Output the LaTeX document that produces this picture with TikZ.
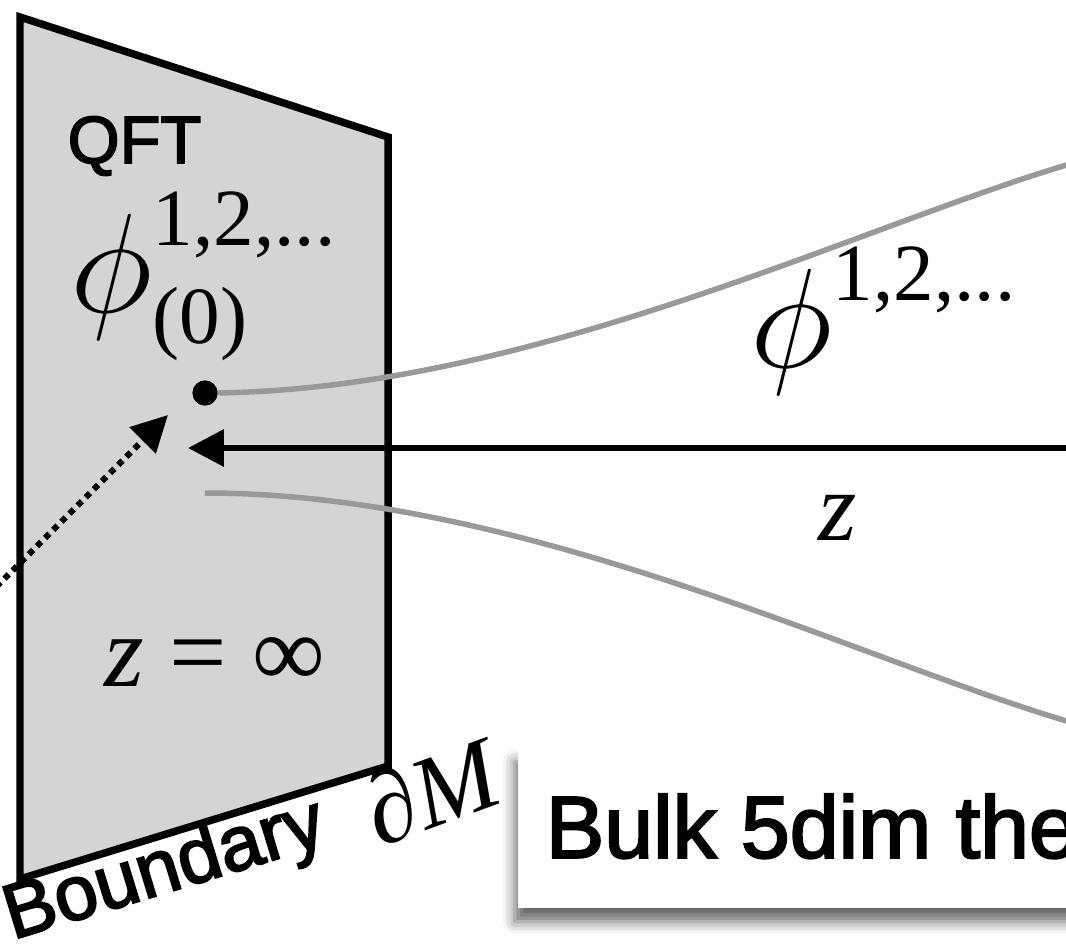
\RequirePackage{fix-cm}
\documentclass[tikz,border=0pt]{standalone}
\usepackage{amsmath}
\usepackage[no-math]{fontspec}
\setsansfont{Liberation Sans}
\newfontfamily\medsans{Liberation Sans}[FakeBold=2.5]
\newfontfamily\serifmath{Liberation Serif}
\usetikzlibrary{arrows.meta,shadows.blur}
\definecolor{planegray}{HTML}{D4D4D4}
\definecolor{curvegray}{HTML}{999999}
\newcommand{\idx}[1]{\text{\serifmath #1}}
\newcommand{\bigphi}{\text{\scalebox{1.22}{$\phi$}}}
\tikzset{
  planeedge/.style={draw=black,line width=0.75mm,fill=planegray,line join=miter},
  fieldline/.style={curvegray,line width=0.55mm},
  radial/.style={-{Triangle[length=3.6mm,width=3.6mm]},line width=0.65mm},
  dottedarrow/.style={-{Triangle[length=3.6mm,width=3.6mm]},line width=0.6mm,dash pattern=on 0.6mm off 0.55mm},
  sanslabel/.style={font=\medsans\fontsize{19}{22}\selectfont,inner sep=0pt},
  mathlabel/.style={font=\serifmath\fontsize{33}{38}\selectfont,inner sep=0pt},
  bulkbox/.style={fill=white,draw=none,inner xsep=2.8mm,inner ysep=0pt,text height=11mm,text depth=5mm,
    font=\medsans\fontsize{25}{30}\selectfont,
    blur shadow={shadow xshift=-0.3mm,shadow yshift=-1.4mm,shadow blur radius=1.2mm,shadow opacity=60}}
}
\begin{document}
\begin{tikzpicture}[x=0.1mm,y=-0.1mm]
  \useasboundingbox (0,0) rectangle (1066,948);
  \clip (0,0) rectangle (1066,948);
  % boundary plane
  \coordinate (TL) at (20,17);
  \coordinate (TR) at (388,137);
  \coordinate (BR) at (388,766);
  \coordinate (BL) at (20,879);
  \draw[planeedge] (TL)--(TR)--(BR)--(BL)--cycle;
  \node[sanslabel,anchor=base west] (qft) at (67,163) {QFT};
  \node[mathlabel,anchor=base west] (src) at (70,312) {$\bigphi^{\idx{1,2,...}}_{\idx{(0)}}$};
  \node[mathlabel,font=\serifmath\fontsize{29}{34}\selectfont,anchor=base west] (zinf) at (104,686) {\itshape z\upshape{} = ∞};
  \node[sanslabel,font=\medsans\fontsize{22}{26}\selectfont,rotate=17,anchor=base west] (bdry) at (12,940) {Boundary};
  \node[mathlabel,font=\serifmath\itshape\fontsize{29}{34}\selectfont,rotate=20,anchor=base west] (dM) at (379,848) {∂M};
  % field lines into the bulk
  \node[circle,fill=black,inner sep=0pt,minimum size=2.5mm] (pt) at (205,393) {};
  \coordinate (lowstart) at (205,493);
  \draw[fieldline] (pt.center) .. controls (600,393) and (1012,140) .. (1200,140);
  \draw[fieldline] (lowstart) .. controls (600,493) and (1012,746) .. (1200,746);
  \node[circle,fill=black,inner sep=0pt,minimum size=2.5mm] at (pt) {};
  \node[mathlabel,anchor=base west] (field) at (750,367) {$\bigphi^{\idx{1,2,...}}$};
  % radial direction
  \coordinate (zfar) at (1100,448);
  \coordinate (ztip) at (188,448);
  \draw[radial] (zfar) -- (ztip);
  \node[mathlabel,font=\serifmath\itshape\fontsize{28}{32}\selectfont,anchor=base] (zlab) at (838,540) {z};
  \coordinate (dotfrom) at (-20,603);
  \coordinate (dotto) at (168,415);
  \draw[dottedarrow] (dotfrom) -- (dotto);
  % bulk label
  \node[bulkbox,anchor=north west] (bulk) at (517,747) {Bulk 5dim theory};
\end{tikzpicture}
\end{document}
